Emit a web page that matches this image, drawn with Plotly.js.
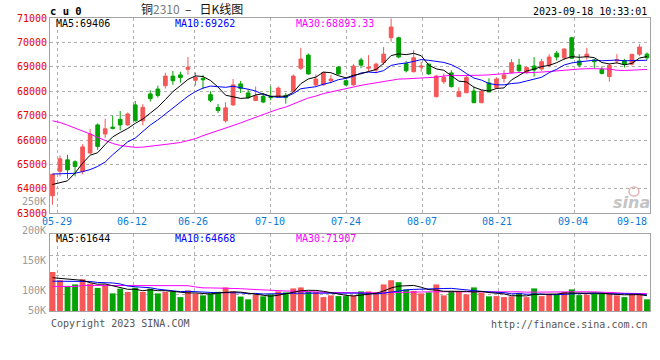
<!DOCTYPE html>
<html><head><meta charset="utf-8">
<script src="https://cdn.plot.ly/plotly-3.0.1.min.js"></script>
<style>html,body{margin:0;padding:0;background:#fff;}#chart{width:660px;height:360px;}</style>
</head><body><div id="chart"></div>
<script>
// ---------- data ----------
const dates = ['05-26','05-29','05-30','05-31','06-01','06-02','06-05','06-06','06-07','06-08',
 '06-09','06-12','06-13','06-14','06-15','06-16','06-19','06-20','06-21','06-26',
 '06-27','06-28','06-29','06-30','07-03','07-04','07-05','07-06','07-07','07-10',
 '07-11','07-12','07-13','07-14','07-17','07-18','07-19','07-20','07-21','07-24',
 '07-25','07-26','07-27','07-28','07-31','08-01','08-02','08-03','08-04','08-07',
 '08-08','08-09','08-10','08-11','08-14','08-15','08-16','08-17','08-18','08-21',
 '08-22','08-23','08-24','08-25','08-28','08-29','08-30','08-31','09-01','09-04',
 '09-05','09-06','09-07','09-08','09-11','09-12','09-13','09-14','09-15','09-18'];
const open = [63720,64720,65190,65110,64720,65470,66620,66250,66530,66850,
 66620,67440,66790,67890,68090,68230,68620,68670,68900,68450,
 68520,67860,67330,66790,67440,68300,67930,67620,67790,67770,
 67780,67830,68010,68940,69480,68260,68260,68430,68990,68430,
 68260,69280,68940,68870,69170,70190,70190,69130,68800,68990,
 69110,67780,68390,68750,67780,67940,68010,67530,68340,68150,
 68520,68770,69070,68770,69030,68910,69070,69560,69370,70190,
 69240,69410,69280,68900,68600,69240,69250,69110,69520,69520];
const high = [64620,65370,65400,65170,65830,66450,66680,66870,66990,67190,
 67130,67600,67470,68040,68230,68760,68830,68800,69400,68770,
 68670,68000,67480,67550,68500,68420,68070,68190,67930,68200,
 68190,67930,68690,69780,69550,68690,68800,68670,69020,68460,
 69110,69370,69480,69170,69810,70980,70230,69240,69690,69210,
 69140,68670,68730,68860,68160,68670,68190,68040,68530,68570,
 68870,69320,69330,69020,69400,69330,69520,69650,69750,70230,
 69520,69780,69330,69010,69140,69520,69330,69540,69930,69590];
const low = [63350,64510,64420,64510,64600,65420,65600,66080,66440,66400,
 66580,66760,66600,67580,67740,68110,68260,68350,68670,68230,
 68090,67550,67110,66720,67400,67930,67690,67610,67510,67630,
 67740,67490,67960,68870,68670,68190,68230,68320,68670,68220,
 68230,68940,68800,68730,69070,70030,69350,68770,68770,68800,
 68670,67740,68300,68150,67780,67920,67530,67530,67970,68090,
 68350,68730,68790,68720,68600,68830,68980,69260,69280,69320,
 68980,69300,68940,68690,68390,69140,68970,69050,69440,69280];
const close = [64600,65230,64780,64920,65720,66250,65740,66460,66480,66620,
 67070,66790,67340,67700,67830,68620,68430,68560,68980,68560,
 68470,67630,67210,67320,68260,68110,67740,67810,67560,67740,
 68130,67740,68620,69320,68710,68500,68770,68500,68710,68260,
 69030,69070,68980,69110,69520,70630,69400,68840,69370,69030,
 68710,68620,68570,68190,67980,68560,67530,68010,67970,68500,
 68670,69170,68840,68970,68870,69210,69400,69400,69730,69350,
 69070,69520,69210,68730,69060,69290,69120,69510,69810,69370];
const volume = [157000,124000,101000,107000,128000,110000,93000,106000,71000,90000,
 77000,94000,77000,90000,71000,77000,77000,56000,83000,70000,
 63000,71000,77000,95000,79000,58000,47000,66000,59000,67000,
 79000,75000,91000,95000,77000,77000,56000,63000,60000,60000,
 63000,79000,79000,75000,107000,124000,116000,87000,81000,71000,
 75000,107000,63000,81000,77000,67000,95000,74000,59000,60000,
 56000,59000,73000,56000,91000,60000,69000,65000,77000,87000,
 64000,66000,69000,69000,69000,63000,56000,71000,71000,47000];
const ma5 = [64180,64250,64330,64650,65050,65380,65482,65818,66130,66310,
 66474,66684,66860,67104,67346,67656,67984,68228,68484,68630,
 68600,68440,68170,67838,67778,67706,67728,67848,67896,67792,
 67796,67796,67958,68310,68504,68578,68784,68760,68638,68548,
 68654,68714,68810,68890,69142,69462,69528,69500,69552,69454,
 69070,68914,68860,68624,68414,68384,68166,68054,68010,68114,
 68136,68464,68630,68830,68904,69012,69058,69170,69322,69418,
 69390,69414,69376,69176,69118,69162,69082,69142,69358,69420];
const ma10 = [64610,64610,64620,64640,64710,64790,64920,65100,65400,65680,
 65927,66083,66339,66617,66828,67065,67334,67544,67794,67988,
 68128,68212,68199,68161,68204,68153,68084,68009,67867,67785,
 67751,67762,67903,68103,68148,68187,68290,68359,68474,68526,
 68616,68749,68785,68764,68845,69058,69121,69155,69221,69298,
 69266,69221,69180,69088,68934,68727,68540,68457,68317,68264,
 68260,68315,68342,68420,68509,68574,68761,68900,69076,69161,
 69201,69236,69273,69249,69268,69276,69248,69259,69267,69269];
const ma30 = [66790,66720,66610,66500,66380,66250,66110,65980,65860,65780,
 65730,65700,65710,65740,65780,65820,65860,65900,65970,66060,
 66180,66280,66380,66480,66590,66700,66820,66940,67050,67151,
 67269,67352,67480,67627,67727,67802,67903,67971,68045,68100,
 68165,68241,68296,68343,68399,68466,68498,68508,68521,68536,
 68544,68577,68623,68652,68642,68657,68650,68657,68671,68696,
 68714,68762,68769,68757,68763,68786,68807,68837,68871,68908,
 68909,68924,68932,68919,68904,68859,68850,68872,68887,68893];
const vma5 = [134000,132000,130000,126000,123400,114000,107800,108800,101600,94000,
 87400,87600,81800,85600,81800,81800,78400,74200,72800,72600,
 69800,68600,72800,75200,77000,76000,71200,69000,61800,59400,
 63600,69200,74200,81400,83400,83000,79200,73600,66600,63200,
 60400,65000,68200,71200,80600,92800,100200,101800,103000,95800,
 86000,84200,79400,79400,80600,79000,76600,78800,74400,71000,
 68800,61600,61400,60800,67000,67800,69800,68200,72400,71600,
 72400,71800,72600,71000,67400,67200,65200,65600,66000,61600];
const vma10 = [120000,120000,120000,120000,120000,119000,115000,114000,113000,108700,
 100700,97700,95300,93600,87900,84600,83000,78000,79200,77200,
 75800,73500,73500,74000,74800,72900,69900,70900,68500,68200,
 69800,70200,71600,71600,71400,73300,74200,73900,74000,73300,
 71700,72100,70900,68900,71900,76600,82600,85000,87100,88200,
 89400,92200,90600,91200,88200,82500,80400,79100,76900,75800,
 73900,69100,70100,67600,69000,68300,65700,64800,66600,69300,
 70100,70800,70400,71700,69500,69800,68500,69100,68500,64500];
const vma30 = [99000,99000,99000,99000,103000,103000,103000,103000,103000,103000,
 103000,102000,102000,102000,102000,102000,102000,102000,102000,97000,
 93000,93000,93000,90000,90000,90000,88000,86000,85000,84700,
 82100,80500,80100,79700,78000,76900,75700,74300,73900,72900,
 72400,71900,72000,71500,72700,74300,75600,76600,76500,76600,
 77000,78200,77700,77200,77200,77500,79100,79300,79300,79100,
 78300,77800,77200,75900,76400,75800,76200,76300,76900,77800,
 77800,77400,77000,76800,75600,73500,71500,71000,70700,69900];
const tickDates = ['05-29','06-12','06-26','07-10','07-24','08-07','08-21','09-04','09-18'];
const priceTicks = [63000,64000,65000,66000,67000,68000,69000,70000,71000];
const priceTickText = ['63000','64000','65000','66000','67000','68000','69000','70000','71000'];
const volTickText = ['250K','200K','150K','100K','50K'];
const priceLabels = ['MA5:69406','MA10:69262','MA30:68893.33'];
const volLabels = ['MA5:61644','MA10:64668','MA30:71907'];

// ---------- layout / style (positions, not data) ----------
const idx = dates.map((d, i) => i);                 // one slot per trading day
const gridPos = [0.69, 10.74, 18.84, 29.0, 39.1, 49.2, 59.24, 69.34, 79.4]; // dotted date grid lines (slot units)
const volTickY = [201, 230.3, 260, 290.7, 310.7];   // pixel rows of the volume labels
const volGrid = [66500, 145000, 223000];
const RED = '#f65757', GREEN = '#03a303';
const MONO = 'DejaVu Sans Mono, monospace';
const GRID = '#b0b0b0', BORDER = '#a3a3a3';
const PX = x => (x - 50) / 600;
const PY = y => (311 - y) / 293;

const traces = [
 {type:'candlestick', x:idx, open:open, high:high, low:low, close:close, text:dates,
  xaxis:'x', yaxis:'y', whiskerwidth:0, hoverinfo:'skip',
  increasing:{line:{color:RED,width:1}, fillcolor:RED},
  decreasing:{line:{color:GREEN,width:1}, fillcolor:GREEN}},
 {type:'scatter', mode:'lines', x:idx, y:ma30, xaxis:'x', yaxis:'y', line:{color:'#ff00ff',width:1}, hoverinfo:'skip'},
 {type:'scatter', mode:'lines', x:idx, y:ma10, xaxis:'x', yaxis:'y', line:{color:'#0000ff',width:1}, hoverinfo:'skip'},
 {type:'scatter', mode:'lines', x:idx, y:ma5, xaxis:'x', yaxis:'y', line:{color:'#000000',width:1}, hoverinfo:'skip'},
 {type:'bar', x:idx, y:volume, xaxis:'x2', yaxis:'y2', width:0.78,
  marker:{color: close.map((c,i)=> c >= open[i] ? RED : GREEN), line:{width:0}}, hoverinfo:'skip'},
 {type:'scatter', mode:'lines', x:idx, y:vma30, xaxis:'x2', yaxis:'y2', line:{color:'#ff00ff',width:1}, hoverinfo:'skip'},
 {type:'scatter', mode:'lines', x:idx, y:vma10, xaxis:'x2', yaxis:'y2', line:{color:'#0000ff',width:1}, hoverinfo:'skip'},
 {type:'scatter', mode:'lines', x:idx, y:vma5, xaxis:'x2', yaxis:'y2', line:{color:'#000000',width:1}, hoverinfo:'skip'}
];

const xCommon = {type:'linear', range:[-0.33, 79.4], tickmode:'array', tickvals:gridPos, showticklabels:false,
 showgrid:true, griddash:'dot', gridcolor:GRID, gridwidth:1, showline:true, mirror:true,
 linecolor:BORDER, linewidth:1, ticks:'', zeroline:false, fixedrange:true};

const ann = [];
const addText = (text, x, y, color, anchor, size, extra) => ann.push(Object.assign({
  text:text, x:PX(x), y:PY(y), xref:'paper', yref:'paper', showarrow:false,
  xanchor:anchor, yanchor:'middle', borderpad:0,
  font:{family:MONO, size:size||10, color:color}}, extra||{}));

tickDates.forEach((d, k) => ann.push({text:d, x: k === tickDates.length-1 ? 79.4 : gridPos[k]-0.15, xref:'x',
  y:PY(221), yref:'paper', showarrow:false,
  xanchor: k === tickDates.length-1 ? 'right' : 'center', xshift: k === tickDates.length-1 ? -2 : 0,
  yanchor:'middle', borderpad:0, font:{family:MONO, size:10, color:'#0a7ad6'}}));
addText(priceLabels[0], 55, 24, '#000000', 'left');
addText(priceLabels[1], 174, 24, '#0000ff', 'left');
addText(priceLabels[2], 295, 24, '#ff00ff', 'left');
addText(volLabels[0], 55, 238.5, '#000000', 'left');
addText(volLabels[1], 174, 238.5, '#0000ff', 'left');
addText(volLabels[2], 295, 238.5, '#ff00ff', 'left');
volTickText.forEach((t, k) => addText(t, 46.7, volTickY[k], '#9a9a9a', 'right'));
addText('<b>c u 0</b>', 49, 11, '#000000', 'left', 10.5);
ann.push({text:'铜<span style="color:#7a7a7a">2310</span>&nbsp;&nbsp;–&nbsp;&nbsp;&nbsp;日K线图', x:PX(140), y:PY(9), xref:'paper', yref:'paper',
  showarrow:false, xanchor:'left', yanchor:'middle', borderpad:0,
  font:{family:'Noto Sans CJK SC, sans-serif', size:12, color:'#111111'}});
addText('2023-09-18 10:33:01', 648, 12, '#000000', 'right');
addText('Copyright 2023 SINA.COM', 50, 323.7, '#555555', 'left');
addText('http://finance.sina.com.cn', 649, 324, '#555555', 'right');
ann.push({text:'sina', x:PX(651), y:PY(202), xref:'paper', yref:'paper', showarrow:false,
  xanchor:'right', yanchor:'middle', borderpad:0,
  font:{family:'DejaVu Sans, sans-serif', size:16, color:'#c4c4c4', style:'italic', weight:'bold'}});

const layout = {
 width:660, height:360, margin:{l:50, r:10, t:18, b:49}, paper_bgcolor:'#ffffff', plot_bgcolor:'#ffffff',
 showlegend:false, hovermode:false,
 xaxis: Object.assign({}, xCommon, {anchor:'y', rangeslider:{visible:false}}),
 xaxis2: Object.assign({}, xCommon, {anchor:'y2', matches:'x'}),
 yaxis: {domain:[0.3334, 1], range:[63000, 71000], tickvals:priceTicks, ticktext:priceTickText,
   tickfont:{family:MONO, size:10, color:'#e60000'}, showgrid:true, griddash:'dot', gridcolor:GRID,
   showline:true, mirror:true, linecolor:BORDER, linewidth:1, ticks:'', zeroline:false, fixedrange:true},
 yaxis2: {domain:[0, 0.2618], range:[0, 309000], tickvals:volGrid, showticklabels:false,
   showgrid:true, griddash:'dot', gridcolor:GRID, showline:true, mirror:true, linecolor:BORDER,
   linewidth:1, ticks:'', zeroline:false, fixedrange:true},
 shapes: [
   {type:'circle', xref:'paper', yref:'paper', x0:PX(629), x1:PX(639), y0:PY(196), y1:PY(187),
    line:{color:'#e3b7b7', width:1.5}, fillcolor:'rgba(0,0,0,0)', layer:'above'}
 ],
 annotations: ann
};
Plotly.newPlot('chart', traces, layout, {staticPlot:true, displayModeBar:false});
</script></body></html>
